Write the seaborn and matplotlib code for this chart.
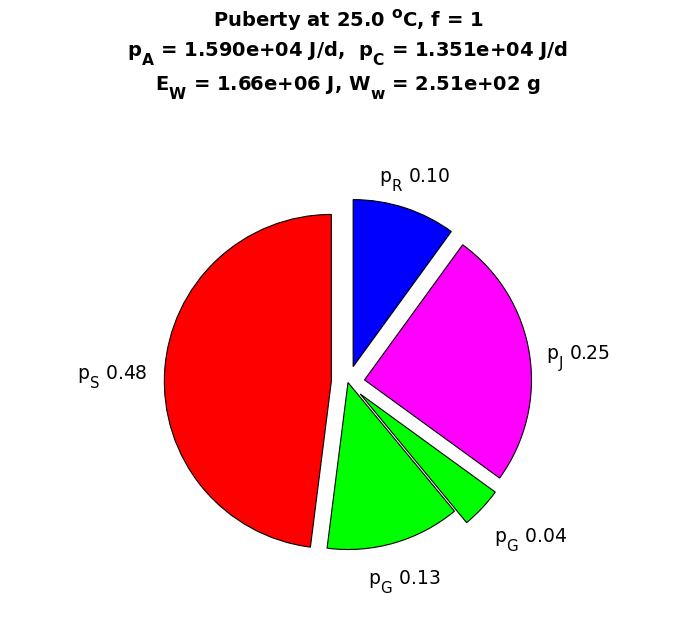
import numpy as np
import matplotlib
matplotlib.use("Agg")
import matplotlib.pyplot as plt
import seaborn as sns

# ---- data (counter-clockwise from 12 o'clock) ----
flux_names = [r"$\mathrm{p_S}$", r"$\mathrm{p_G}$", r"$\mathrm{p_G}$", r"$\mathrm{p_J}$", r"$\mathrm{p_R}$"]
fractions = [0.48, 0.13, 0.04, 0.25, 0.10]
slice_colors = ["#ff0000", "#00ff00", "#00ff00", "#ff00ff", "#0000ff"]
exploded = [0.1, 0.0, 0.1, 0.1, 0.1]

title_lines = [
    r"Puberty at 25.0 $^\mathbf{o}$C, f = 1",
    r"$\mathbf{p_A}$ = 1.590e+04 J/d,  $\mathbf{p_C}$ = 1.351e+04 J/d",
    r"$\mathbf{E_W}$ = 1.66e+06 J, $\mathbf{W_w}$ = 2.51e+02 g",
]

sns.set_theme(style="white")
plt.rcParams["font.family"] = ["DejaVu Sans"]
plt.rcParams["mathtext.fontset"] = "dejavusans"

# MATLAB-style larger, lower subscripts
try:
    import matplotlib._mathtext as _mt
    _mt.SHRINK_FACTOR = 0.8
    for _cls in (_mt.FontConstantsBase, _mt.DejaVuSansFontConstants):
        _cls.sub1 = 0.9
        _cls.sup1 = 0.8
except Exception:
    pass

W, H, DPI = 696, 618, 100
fig = plt.figure(figsize=(W / DPI, H / DPI), dpi=DPI)
fig.patch.set_facecolor("white")
ax = fig.add_axes([0, 0, 1, 1])

labels = [f"{n} {v:.2f}" for n, v in zip(flux_names, fractions)]
wedges, texts = ax.pie(
    fractions,
    labels=labels,
    colors=slice_colors,
    explode=exploded,
    startangle=90,
    counterclock=True,
    labeldistance=1.2,
    wedgeprops=dict(edgecolor="black", linewidth=0.8),
    textprops=dict(fontsize=13.5, color="black"),
)

# MATLAB-like label placement derived from wedge geometry
for w, t in zip(wedges, texts):
    th = np.deg2rad((w.theta1 + w.theta2) / 2)
    c, s = np.cos(th), np.sin(th)
    cx, cy = w.center
    if abs(c) < 0.4:
        x, y, ha = cx + 1.2 * w.r * c, cy + 1.21 * w.r * s, "center"
    else:
        x = cx + 1.1 * w.r * c
        y = cy + 1.2 * w.r * s - 0.015 * w.r
        ha = "left" if c > 0 else "right"
    t.set_position((x, y))
    t.set_ha(ha)
    t.set_va("center_baseline")

R_PX = 167.0
CX, CY = 348.0, 382.5
ax.set_xlim(-CX / R_PX, (W - CX) / R_PX)
ax.set_ylim(-(H - CY) / R_PX, CY / R_PX)
ax.set_aspect("auto")
ax.axis("off")

baselines = [27, 56, 90]
for line, yb in zip(title_lines, baselines):
    fig.text(0.5, 1 - yb / H, line, ha="center", va="baseline",
             fontsize=14, fontweight="bold", color="black")

fig.savefig("out.png", dpi=DPI, facecolor="white")
